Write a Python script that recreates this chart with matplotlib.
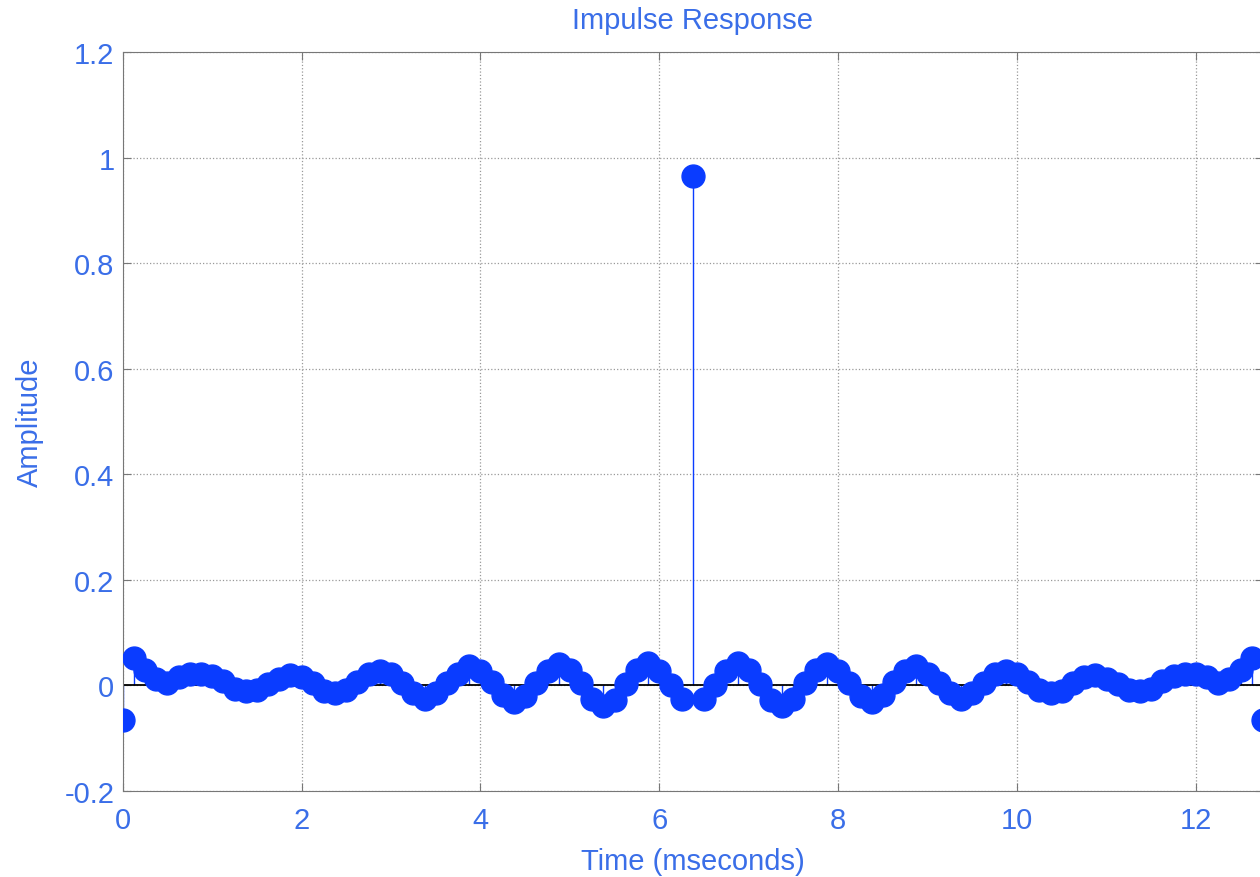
import matplotlib.pyplot as plt
import numpy as np

plt.rcParams["font.family"] = ["Liberation Sans", "DejaVu Sans"]
plt.rcParams["axes.unicode_minus"] = False

fs_khz = 8.0  # samples per msecond

# impulse response taps
taps = [
    -0.066, 0.052, 0.030, 0.012, 0.004, 0.015, 0.022, 0.022, 0.017, 0.008,
    -0.006, -0.011, -0.008, 0.002, 0.013, 0.019, 0.015, 0.004, -0.010, -0.015,
    -0.008, 0.006, 0.021, 0.028, 0.021, 0.004, -0.015, -0.025, -0.015, 0.004,
    0.022, 0.036, 0.028, 0.006, -0.019, -0.032, -0.021, 0.004, 0.028, 0.040,
    0.030, 0.004, -0.025, -0.040, -0.027, 0.002, 0.030, 0.042, 0.028, 0.000,
    -0.025,
    0.965,
    -0.025, 0.000, 0.028, 0.042, 0.030, 0.002, -0.027, -0.040, -0.025, 0.004,
    0.030, 0.040, 0.028, 0.004, -0.021, -0.032, -0.019, 0.006, 0.028, 0.036,
    0.022, 0.004, -0.015, -0.025, -0.015, 0.004, 0.021, 0.028, 0.021, 0.006,
    -0.008, -0.015, -0.010, 0.004, 0.015, 0.019, 0.013, 0.002, -0.008, -0.011,
    -0.006, 0.008, 0.017, 0.022, 0.022, 0.015, 0.004, 0.012, 0.030, 0.052,
    -0.066,
]
x_ticks = [0, 2, 4, 6, 8, 10, 12]
y_ticks = [-0.2, 0, 0.2, 0.4, 0.6, 0.8, 1, 1.2]

t = np.arange(len(taps)) / fs_khz

text_blue = "#3a6ee8"
mark_blue = "#0a3cff"

fig = plt.figure(figsize=(12.6, 8.78), dpi=100)
ax = fig.add_axes([0.0974, 0.098, 0.905, 0.8417])

markers, stems, base = ax.stem(t, taps)
plt.setp(markers, color=mark_blue, markersize=16.5, zorder=3)
plt.setp(stems, color=mark_blue, linewidth=1)
plt.setp(base, color="black", linewidth=1.3)

ax.set_xlim(0, t[-1])
ax.set_ylim(-0.2, 1.2)
ax.set_xticks(x_ticks)
ax.set_yticks(y_ticks)
ax.set_yticklabels(["%g" % v for v in y_ticks])

ax.grid(True, linestyle=":", color="#999999", linewidth=0.9)
ax.set_axisbelow(True)
ax.tick_params(direction="in", colors="#777777", labelcolor=text_blue,
               labelsize=21, length=6, top=True, right=True)
ax.tick_params(axis="x", pad=11)
ax.tick_params(axis="y", pad=6)
for s in ax.spines.values():
    s.set_color("#777777")

ax.set_title("Impulse Response", color=text_blue, fontsize=21, pad=17)
ax.set_xlabel("Time (mseconds)", color=text_blue, fontsize=21, labelpad=9)
ax.set_ylabel("Amplitude", color=text_blue, fontsize=21, labelpad=15)

fig.savefig("out.png", dpi=100)
